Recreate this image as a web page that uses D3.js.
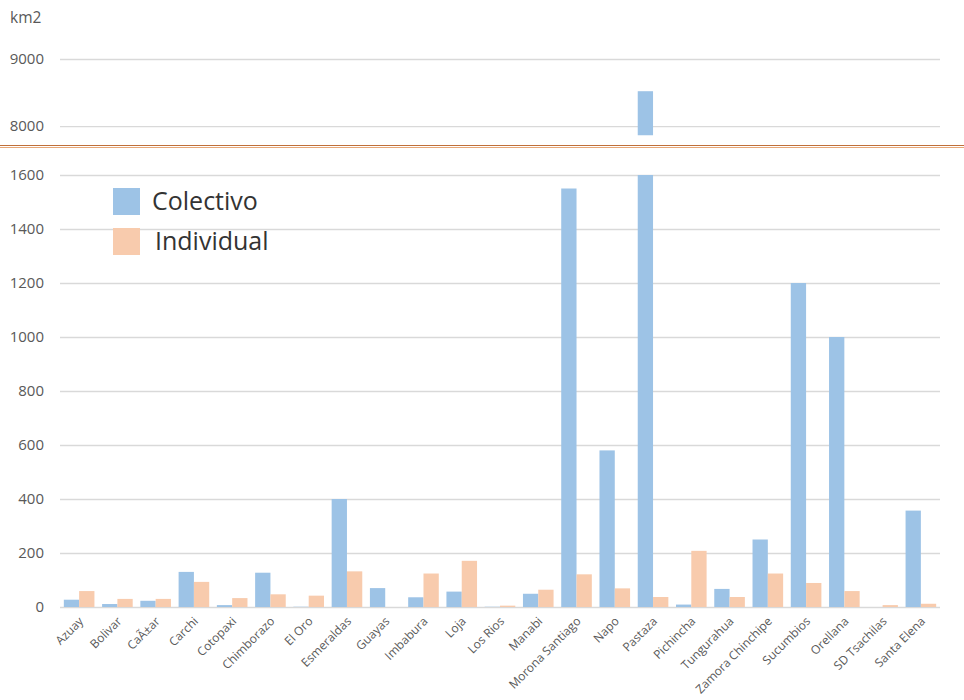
<!DOCTYPE html>
<html>
<head>
<meta charset="utf-8">
<script src="https://cdn.jsdelivr.net/npm/d3@7"></script>
<style>
  body { margin: 0; background: #fff; }
  svg text { font-family: "Open Sans", "Noto Sans", sans-serif; }
</style>
</head>
<body>
<svg id="chart" width="964" height="700"></svg>
<script>
const categories = ["Azuay", "Bolivar", "CaÃ±ar", "Carchi", "Cotopaxi", "Chimborazo", "El Oro",
  "Esmeraldas", "Guayas", "Imbabura", "Loja", "Los Rios", "Manabi", "Morona Santiago", "Napo",
  "Pastaza", "Pichincha", "Tungurahua", "Zamora Chinchipe", "Sucumbios", "Orellana",
  "SD Tsachilas", "Santa Elena"];
const colectivo = [27, 11, 23, 130, 7, 127, 1, 400, 70, 36, 57, 1, 49, 1550, 580,
  8520, 9, 67, 250, 1200, 1000, 0, 357];
const individual = [59, 30, 30, 93, 33, 47, 42, 132, 0, 124, 171, 5, 64, 121, 69,
  37, 208, 37, 124, 89, 59, 7, 12];
const seriesNames = ["Colectivo", "Individual"];
const lowerTicks = [0, 200, 400, 600, 800, 1000, 1200, 1400, 1600];
const upperTicks = [8000, 9000];
const unitLabel = "km2";

const colors = { Colectivo: "#9dc3e6", Individual: "#f8cbad" };
const svg = d3.select("#chart");
const left = 60, right = 940;

const rows = categories.map((c, i) => ({ name: c, Colectivo: colectivo[i], Individual: individual[i] }));

const x0 = d3.scaleBand().domain(categories).range([left, right]);
const x1 = d3.scaleBand().domain(seriesNames).range([0, x0.bandwidth()]).paddingOuter(0.25);

const yLow = d3.scaleLinear().domain([0, 1600]).range([607, 175]);
const yHigh = d3.scaleLinear().domain([7860, 9000]).range([135.5, 59]);

// gridlines + tick labels
function drawAxis(scale, ticks) {
  const g = svg.append("g")
    .attr("transform", "translate(" + left + ",0)")
    .call(d3.axisLeft(scale).tickValues(ticks).tickSize(-(right - left)).tickPadding(16).tickFormat(d3.format("d")));
  g.attr("font-family", null).attr("font-size", null);
  g.select(".domain").remove();
  g.selectAll(".tick line").attr("stroke", "#d9d9d9").attr("stroke-width", 1.3);
  g.selectAll(".tick text").attr("fill", "#595959").style("font-size", "15px");
}
drawAxis(yLow, lowerTicks);
drawAxis(yHigh, upperTicks);

svg.append("text").attr("x", 10).attr("y", 23).attr("fill", "#595959")
  .style("font-size", "15.5px").text(unitLabel);

// clip regions for the two panels
svg.append("clipPath").attr("id", "clipLow").append("rect")
  .attr("x", left).attr("y", yLow(1600)).attr("width", right - left).attr("height", yLow(0) - yLow(1600));
svg.append("clipPath").attr("id", "clipHigh").append("rect")
  .attr("x", left).attr("y", 40).attr("width", right - left).attr("height", yHigh(7860) - 40);

function drawBars(scale, clip) {
  svg.append("g").attr("clip-path", "url(#" + clip + ")")
    .selectAll("g").data(rows).join("g")
    .attr("transform", d => "translate(" + x0(d.name) + ",0)")
    .selectAll("rect").data(d => seriesNames.map(k => ({ key: k, value: d[k] }))).join("rect")
    .attr("x", d => x1(d.key))
    .attr("width", x1.bandwidth())
    .attr("y", d => scale(d.value))
    .attr("height", d => Math.max(0, scale.range()[0] - scale(d.value)))
    .attr("fill", d => colors[d.key]);
}
drawBars(yLow, "clipLow");
drawBars(yHigh, "clipHigh");

// axis break line
svg.append("line").attr("x1", 0).attr("x2", 964).attr("y1", 145.5).attr("y2", 145.5)
  .attr("stroke", "#c0703a").attr("stroke-width", 1.2);
svg.append("line").attr("x1", 0).attr("x2", 964).attr("y1", 147.5).attr("y2", 147.5)
  .attr("stroke", "#e8a878").attr("stroke-width", 1.2);

// x labels
svg.append("g").selectAll("text").data(categories).join("text")
  .attr("transform", d => "translate(" + (x0(d) + x0.bandwidth() / 2 + 5) + ",622) rotate(-45)")
  .attr("text-anchor", "end")
  .attr("fill", "#595959")
  .style("font-size", "12px")
  .text(d => d);

// legend
const legend = svg.append("g").selectAll("g").data(seriesNames).join("g")
  .attr("transform", (d, i) => "translate(113," + (188 + i * 40) + ")");
legend.append("rect").attr("width", 27).attr("height", 27).attr("fill", d => colors[d]);
legend.append("text").attr("x", (d, i) => 39 + i * 3).attr("y", 22)
  .attr("fill", "#333").style("font-size", "25px").text(d => d);
</script>
</body>
</html>
